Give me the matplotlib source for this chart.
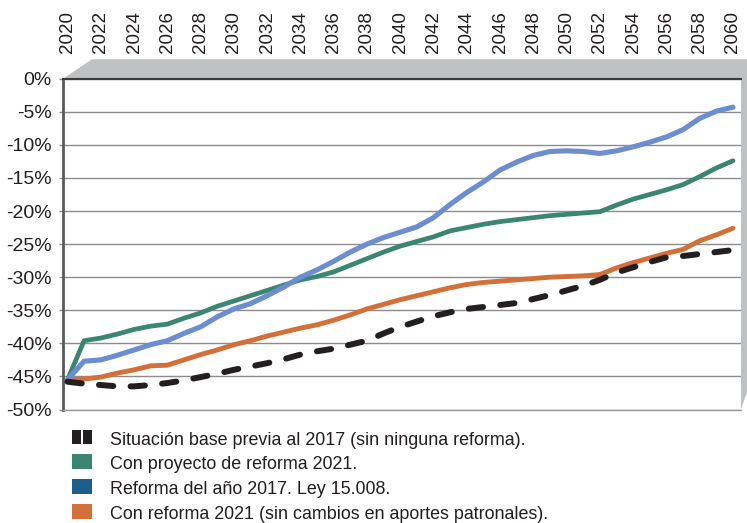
import matplotlib
matplotlib.use('Agg')
import matplotlib.pyplot as plt
from matplotlib.patches import Polygon, Rectangle

# ---------------- data ----------------
years = list(range(2020, 2061))

base_2017 = [-45.8, -46.1, -46.3, -46.5, -46.5, -46.3, -46.0, -45.6, -45.1, -44.6,
             -44.0, -43.5, -43.0, -42.4, -41.7, -41.2, -40.8, -40.2, -39.6, -38.5,
             -37.5, -36.7, -35.9, -35.3, -34.8, -34.5, -34.2, -33.9, -33.3, -32.7,
             -32.0, -31.3, -30.4, -29.3, -28.5, -27.7, -27.0, -26.8, -26.5, -26.2,
             -25.9]

proyecto_2021 = [-45.5, -39.6, -39.2, -38.6, -37.9, -37.4, -37.1, -36.2, -35.4, -34.4,
                 -33.6, -32.8, -32.0, -31.2, -30.4, -29.9, -29.2, -28.2, -27.2, -26.2,
                 -25.3, -24.6, -23.9, -23.0, -22.5, -22.0, -21.6, -21.3, -21.0, -20.7,
                 -20.5, -20.3, -20.1, -19.1, -18.2, -17.5, -16.8, -16.0, -14.8, -13.5,
                 -12.4]

reforma_2017 = [-45.5, -42.7, -42.5, -41.8, -41.0, -40.2, -39.6, -38.5, -37.5, -36.0,
                -34.8, -34.0, -32.8, -31.5, -30.0, -28.9, -27.6, -26.2, -25.0, -24.0,
                -23.2, -22.4, -21.0, -19.0, -17.2, -15.6, -13.8, -12.6, -11.6, -11.0,
                -10.9, -11.0, -11.3, -10.9, -10.3, -9.6, -8.8, -7.7, -6.0, -4.9,
                -4.3]

reforma_2021_sin = [-45.5, -45.4, -45.1, -44.5, -44.0, -43.4, -43.3, -42.5, -41.7, -41.0,
                    -40.2, -39.6, -38.9, -38.3, -37.7, -37.2, -36.5, -35.7, -34.8, -34.1,
                    -33.4, -32.8, -32.2, -31.6, -31.1, -30.8, -30.6, -30.4, -30.2, -30.0,
                    -29.9, -29.8, -29.6, -28.6, -27.8, -27.1, -26.4, -25.8, -24.5, -23.6,
                    -22.6]

legend_labels = [
    "Situación base previa al 2017 (sin ninguna reforma).",
    "Con proyecto de reforma 2021.",
    "Reforma del año 2017. Ley 15.008.",
    "Con reforma 2021 (sin cambios en aportes patronales).",
]

year_ticks = list(range(2020, 2061, 2))
pct_ticks = list(range(0, -55, -5))
pct_labels = [f"{v}%" for v in pct_ticks]

# ---------------- styles ----------------
C_BLACK = "#231f20"
C_GREEN = "#3a8672"
C_BLUE_LINE = "#6c8ed0"
C_BLUE_LEG = "#1c5e8c"
C_ORANGE = "#d36f38"
C_BAND = "#bfc0c2"

FONT = ["Liberation Sans", "DejaVu Sans"]

W, H = 747, 523
fig = plt.figure(figsize=(W / 100, H / 100), dpi=100)


def fx(x):
    return x / W


def fy(y):
    return 1 - y / H


left, right, top, bottom = 63, 741, 78.7, 409.5

# 3D-like gray bands
fig.patches.append(Polygon([(fx(63), fy(78.7)), (fx(92), fy(59.3)), (fx(747), fy(59.3)),
                            (fx(747), fy(78.7)), (fx(741), fy(78.7))],
                           closed=True, transform=fig.transFigure,
                           facecolor=C_BAND, edgecolor="none", zorder=0))
fig.patches.append(Polygon([(fx(741), fy(78.7)), (fx(747), fy(70)), (fx(747), fy(392)),
                            (fx(741), fy(409.5))],
                           closed=True, transform=fig.transFigure,
                           facecolor=C_BAND, edgecolor="none", zorder=0))

ax = fig.add_axes([fx(left), fy(bottom), fx(right) - fx(left), fy(top) - fy(bottom)])
ax.set_zorder(1)

px_per_year = (733 - 67.5) / 40
ax.set_xlim(2020 - (67.5 - left) / px_per_year, 2060 + (right - 733) / px_per_year)
ax.set_ylim(-50, 0)

# lines
ax.plot(years, reforma_2021_sin, color=C_ORANGE, lw=3.5, solid_capstyle="round",
        solid_joinstyle="round", zorder=3)
ax.plot(years, proyecto_2021, color=C_GREEN, lw=3.4, solid_capstyle="round",
        solid_joinstyle="round", zorder=4)
ax.plot(years, reforma_2017, color=C_BLUE_LINE, lw=3.7, solid_capstyle="round",
        solid_joinstyle="round", zorder=5)
ax.plot(years, base_2017, color=C_BLACK, lw=4.3, dashes=(2.4, 2.9),
        dash_capstyle="round", zorder=6)

# grid and spines
ax.set_yticks(pct_ticks)
ax.set_yticklabels(pct_labels, fontfamily=FONT, fontsize=14, color="#231f20")
ax.yaxis.grid(True, color="#8c8c8c", lw=1.0, zorder=1)
ax.xaxis.grid(False)
ax.tick_params(axis="y", direction="out", length=3, width=1, color="#8c8c8c", pad=5)

ax.xaxis.tick_top()
ax.set_xticks(year_ticks)
ax.set_xticklabels([str(y) for y in year_ticks], rotation=90, fontfamily=FONT,
                   fontsize=13.5, color="#231f20", ha="center", va="bottom")
ax.tick_params(axis="x", length=0, pad=18.5)

ax.spines["left"].set_color("#5a5a5a")
ax.spines["left"].set_linewidth(2.0)
ax.spines["top"].set_color("#3c3c3c")
ax.spines["top"].set_linewidth(1.5)
ax.spines["right"].set_visible(False)
ax.spines["bottom"].set_color("#9a9a9a")
ax.spines["bottom"].set_linewidth(1.0)

# legend (manual)
legend_colors = [C_BLACK, C_GREEN, C_BLUE_LEG, C_ORANGE]
row_step = 24.8
sw_top0 = 429.5
sw_h = 14.6
for i, (lab, col) in enumerate(zip(legend_labels, legend_colors)):
    t = sw_top0 + i * row_step
    if i == 0:
        for (x0, x1) in [(71.7, 80.7), (83.3, 91.7)]:
            fig.patches.append(Rectangle((fx(x0), fy(t + sw_h)), fx(x1) - fx(x0),
                                         sw_h / H, transform=fig.transFigure,
                                         facecolor=col, edgecolor="none"))
    else:
        fig.patches.append(Rectangle((fx(71.7), fy(t + sw_h)), fx(91.7) - fx(71.7),
                                     sw_h / H, transform=fig.transFigure,
                                     facecolor=col, edgecolor="none"))
    fig.text(fx(110.5), fy(t + sw_h + 0.5), lab, fontfamily=FONT, fontsize=12.9,
             color="#231f20", ha="left", va="baseline")

fig.savefig("out.png", dpi=100, facecolor="white")
